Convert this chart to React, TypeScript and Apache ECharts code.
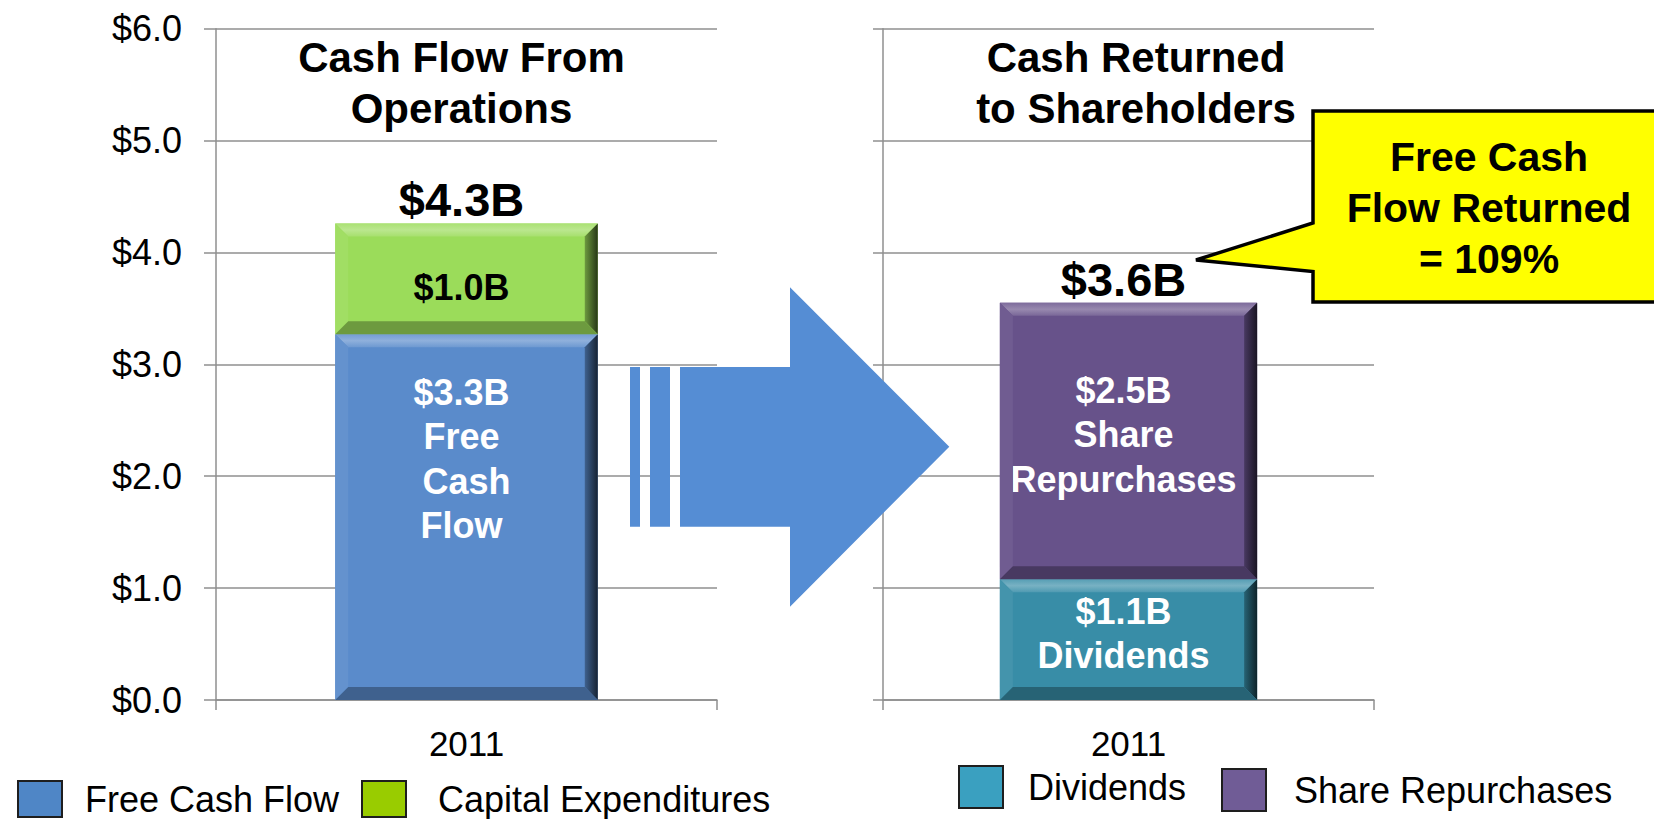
import React, { useEffect, useRef } from "react";
import * as echarts from "echarts";

// ---------- data ----------
const categories = ["2011"];
const freeCashFlow = [3.27];
const capitalExpenditures = [0.99];
const dividends = [1.08];
const shareRepurchases = [2.47];
const yMin = 0;
const yMax = 6;
const yInterval = 1;
const titleLeft = "Cash Flow From\nOperations";
const titleRight = "Cash Returned\nto Shareholders";
const fcfLabelWords = "Free\n Cash\nFlow";
const repLabelWords = "Share\nRepurchases";
const divLabelWords = "Dividends";

// ---------- style ----------
const FONT = "'Liberation Sans', Arial, Helvetica, sans-serif";
const GRID_COLOR = "#8f8f8f";
const COL_FCF = "#5A8BCB";
const COL_CAPEX = "#9BDC5A";
const COL_DIV = "#388DA7";
const COL_REP = "#67528A";
const BAR_FRAC = 0.524;

function mix(hex: string, to: string, t: number) {
  const p = (h: string) => [1, 3, 5].map((i) => parseInt(h.slice(i, i + 2), 16));
  const a = p(hex);
  const b = p(to);
  const c = a.map((v, i) => Math.round(v + (b[i] - v) * t));
  return "#" + c.map((v) => v.toString(16).padStart(2, "0")).join("");
}

const fmt = (v: number) => `$${v.toFixed(1)}B`;

function bevelRender(colors: string[]) {
  return (params: any, api: any) => {
    const xi = api.value(0);
    const b = api.value(1);
    const t = api.value(2);
    const ci = api.value(3);
    const p0 = api.coord([xi, b]);
    const p1 = api.coord([xi, t]);
    const band = api.size([1, 0])[0];
    const w = band * BAR_FRAC;
    const L = p0[0] - w / 2;
    const R = p0[0] + w / 2;
    const T = p1[1];
    const B = p0[1];
    const e = Math.min(13, (B - T) / 2);
    const base = colors[ci];
    return {
      type: "group",
      children: [
        {
          type: "polygon",
          shape: { points: [[L, T], [R, T], [R - e, T + e], [L + e, T + e]] },
          style: {
            fill: new echarts.graphic.LinearGradient(0, 0, 0, 1, [
              { offset: 0, color: mix(base, "#ffffff", 0.15) },
              { offset: 0.5, color: mix(base, "#ffffff", 0.32) },
              { offset: 1, color: mix(base, "#ffffff", 0.12) },
            ]),
          },
        },
        {
          type: "polygon",
          shape: { points: [[L, T], [L + e, T + e], [L + e, B - e], [L, B]] },
          style: { fill: mix(base, "#ffffff", 0.06) },
        },
        {
          type: "polygon",
          shape: { points: [[R, T], [R, B], [R - e, B - e], [R - e, T + e]] },
          style: {
            fill: new echarts.graphic.LinearGradient(0, 0, 1, 0, [
              { offset: 0, color: mix(base, "#000000", 0.3) },
              { offset: 1, color: mix(base, "#000000", 0.75) },
            ]),
          },
        },
        {
          type: "polygon",
          shape: { points: [[L, B], [R, B], [R - e, B - e], [L + e, B - e]] },
          style: { fill: mix(base, "#000000", 0.3) },
        },
      ],
    };
  };
}

function buildOption() {
  const totalLeft = freeCashFlow[0] + capitalExpenditures[0];
  const totalRight = dividends[0] + shareRepurchases[0];
  const pct = Math.round((totalRight / freeCashFlow[0]) * 100);
  const calloutText = `Free Cash\nFlow Returned\n= ${pct}%`;

  const segLeft = categories.flatMap((_, i) => [
    [i, 0, freeCashFlow[i], 0],
    [i, freeCashFlow[i], freeCashFlow[i] + capitalExpenditures[i], 1],
  ]);
  const segRight = categories.flatMap((_, i) => [
    [i, 0, dividends[i], 0],
    [i, dividends[i], dividends[i] + shareRepurchases[i], 1],
  ]);

  const grids = [
    { left: 216, top: 28.7, width: 501, height: 671.3 },
    { left: 883, top: 28.7, width: 491, height: 671.3 },
  ];

  const yAxis = [0, 1].map((i) => ({
    type: "value",
    gridIndex: i,
    min: yMin,
    max: yMax,
    interval: yInterval,
    axisLine: { show: true, lineStyle: { color: GRID_COLOR, width: 1.5 } },
    axisTick: { show: true, length: i === 0 ? 12 : 10, lineStyle: { color: GRID_COLOR, width: 1.5 } },
    splitLine: { show: true, lineStyle: { color: GRID_COLOR, width: 1.5 } },
    axisLabel: {
      show: i === 0,
      formatter: (v: number) => "$" + v.toFixed(1),
      fontSize: 36,
      color: "#000",
      margin: 34,
      fontFamily: FONT,
    },
  }));

  const xAxis = [0, 1].map((i) => ({
    type: "category",
    gridIndex: i,
    data: categories,
    axisLine: { show: true, lineStyle: { color: GRID_COLOR, width: 1.5 } },
    axisTick: { show: true, length: 10, alignWithLabel: false, lineStyle: { color: GRID_COLOR, width: 1.5 } },
    axisLabel: { fontSize: 35, color: "#000", margin: 26, fontFamily: FONT },
    splitLine: { show: false },
  }));

  const whiteLabel = {
    show: true,
    color: "#fff",
    fontSize: 36,
    fontWeight: "bold",
    fontFamily: FONT,
    lineHeight: 44.5,
    align: "center",
    textBorderWidth: 0,
  };

  const totalLabel = {
    show: true,
    position: "top",
    distance: 0,
    offset: [-5, 0],
    color: "#000",
    fontSize: 47,
    fontWeight: "bold",
    fontFamily: FONT,
    textBorderWidth: 0,
  };

  const series: any[] = [
    {
      name: "Free Cash Flow",
      type: "bar",
      xAxisIndex: 0,
      yAxisIndex: 0,
      stack: "L",
      barWidth: BAR_FRAC * 100 + "%",
      data: freeCashFlow,
      itemStyle: { color: COL_FCF },
      label: {
        ...whiteLabel,
        position: "insideTop",
        distance: 36,
        offset: [-5, 0],
        formatter: (p: any) => fmt(p.value) + "\n" + fcfLabelWords,
      },
    },
    {
      name: "Capital Expenditures",
      type: "bar",
      xAxisIndex: 0,
      yAxisIndex: 0,
      stack: "L",
      barWidth: BAR_FRAC * 100 + "%",
      data: capitalExpenditures,
      itemStyle: { color: COL_CAPEX },
      label: {
        ...whiteLabel,
        color: "#000",
        position: "inside",
        offset: [-5, 9],
        formatter: (p: any) => fmt(p.value),
      },
    },
    {
      name: "TotalL",
      type: "bar",
      xAxisIndex: 0,
      yAxisIndex: 0,
      stack: "L",
      barWidth: BAR_FRAC * 100 + "%",
      data: categories.map(() => 0),
      itemStyle: { color: "transparent" },
      label: { ...totalLabel, formatter: () => fmt(totalLeft) },
    },
    {
      name: "Dividends",
      type: "bar",
      xAxisIndex: 1,
      yAxisIndex: 1,
      stack: "R",
      barWidth: BAR_FRAC * 100 + "%",
      data: dividends,
      itemStyle: { color: COL_DIV },
      label: {
        ...whiteLabel,
        position: "insideTop",
        distance: 10,
        offset: [-5, 0],
        formatter: (p: any) => fmt(p.value) + "\n" + divLabelWords,
      },
    },
    {
      name: "Share Repurchases",
      type: "bar",
      xAxisIndex: 1,
      yAxisIndex: 1,
      stack: "R",
      barWidth: BAR_FRAC * 100 + "%",
      data: shareRepurchases,
      itemStyle: { color: COL_REP },
      label: {
        ...whiteLabel,
        position: "insideTop",
        distance: 65,
        offset: [-5, 0],
        formatter: (p: any) => fmt(p.value) + "\n" + repLabelWords,
      },
    },
    {
      name: "TotalR",
      type: "bar",
      xAxisIndex: 1,
      yAxisIndex: 1,
      stack: "R",
      barWidth: BAR_FRAC * 100 + "%",
      data: categories.map(() => 0),
      itemStyle: { color: "transparent" },
      label: { ...totalLabel, formatter: () => fmt(totalRight) },
    },
    {
      type: "custom",
      xAxisIndex: 0,
      yAxisIndex: 0,
      z: 3,
      silent: true,
      encode: { x: 0, y: [1, 2] },
      data: segLeft,
      renderItem: bevelRender([COL_FCF, COL_CAPEX]),
    },
    {
      type: "custom",
      xAxisIndex: 1,
      yAxisIndex: 1,
      z: 3,
      silent: true,
      encode: { x: 0, y: [1, 2] },
      data: segRight,
      renderItem: bevelRender([COL_DIV, COL_REP]),
    },
  ];

  const legendBase = {
    orient: "horizontal",
    padding: 0,
    selectedMode: false,
    icon: "rect",
    itemWidth: 44,
    itemStyle: { borderColor: "#1e1e1e", borderWidth: 2 },
  };
  const legTxt = (pad: number) => ({
    fontSize: 36,
    color: "#000",
    fontFamily: FONT,
    padding: [0, 0, 0, pad],
  });
  const legend = [
    {
      ...legendBase,
      left: 17,
      top: 780,
      itemHeight: 36,
      data: [{ name: "Free Cash Flow", itemStyle: { color: "#4F86C6" } }],
      textStyle: legTxt(18),
    },
    {
      ...legendBase,
      left: 361,
      top: 780,
      itemHeight: 36,
      data: [{ name: "Capital Expenditures", itemStyle: { color: "#99CC00" } }],
      textStyle: legTxt(27),
    },
    {
      ...legendBase,
      left: 958,
      top: 765,
      itemHeight: 42,
      data: [{ name: "Dividends", itemStyle: { color: "#3AA0C0" } }],
      textStyle: legTxt(20),
    },
    {
      ...legendBase,
      left: 1221,
      top: 768,
      itemHeight: 42,
      data: [{ name: "Share Repurchases", itemStyle: { color: "#705C96" } }],
      textStyle: legTxt(23),
    },
  ];

  const ARROW = "#558DD4";
  const graphic = [
    {
      type: "text",
      x: 461.5,
      y: 31.5,
      z: 50,
      style: {
        text: titleLeft,
        font: `bold 42px ${FONT}`,
        lineHeight: 51,
        align: "center",
        verticalAlign: "top",
        fill: "#000",
      },
    },
    {
      type: "text",
      x: 1136,
      y: 31.5,
      z: 50,
      style: {
        text: titleRight,
        font: `bold 42px ${FONT}`,
        lineHeight: 51,
        align: "center",
        verticalAlign: "top",
        fill: "#000",
      },
    },
    {
      type: "rect",
      z: 40,
      shape: { x: 630, y: 367, width: 10, height: 159.7 },
      style: { fill: ARROW },
    },
    {
      type: "rect",
      z: 40,
      shape: { x: 650, y: 367, width: 20, height: 159.7 },
      style: { fill: ARROW },
    },
    {
      type: "polygon",
      z: 40,
      shape: {
        points: [
          [680, 367],
          [790, 367],
          [790, 287.3],
          [949.3, 446.7],
          [790, 606.7],
          [790, 526.7],
          [680, 526.7],
        ],
      },
      style: { fill: ARROW },
    },
    {
      type: "polygon",
      z: 60,
      shape: {
        points: [
          [1313, 111],
          [1662, 111],
          [1662, 302],
          [1313, 302],
          [1313, 271.5],
          [1196, 260],
          [1313, 223],
        ],
      },
      style: { fill: "#FFFF00", stroke: "#000", lineWidth: 3.5, lineJoin: "miter" },
    },
    {
      type: "text",
      x: 1489,
      y: 132.1,
      z: 61,
      style: {
        text: calloutText,
        font: `bold 41px ${FONT}`,
        lineHeight: 50.8,
        align: "center",
        verticalAlign: "top",
        fill: "#000",
      },
    },
  ];

  return {
    animation: false,
    backgroundColor: "#ffffff",
    textStyle: { fontFamily: FONT },
    grid: grids,
    xAxis,
    yAxis,
    legend,
    series,
    graphic,
  };
}

export default function App() {
  const ref = useRef<HTMLDivElement>(null);
  useEffect(() => {
    if (!ref.current) return;
    const chart = echarts.init(ref.current, null, { renderer: "svg" });
    chart.setOption(buildOption() as any);
    return () => chart.dispose();
  }, []);
  return (
    <div
      ref={ref}
      style={{ position: "absolute", left: 0, top: 0, width: 1654, height: 819, background: "#fff" }}
    />
  );
}
